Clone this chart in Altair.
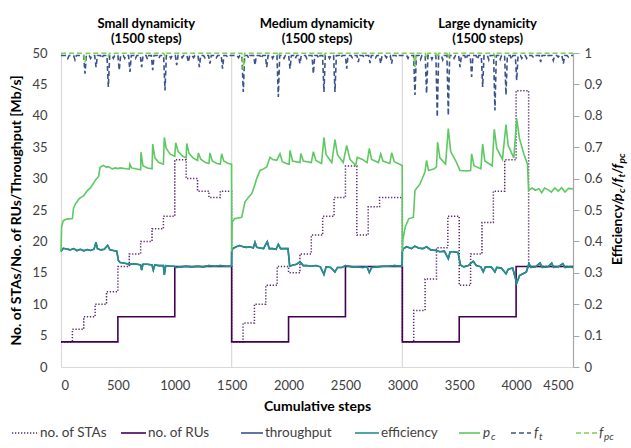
import altair as alt
import pandas as pd

# ---------------- data ----------------
x_ticks = [0, 500, 1000, 1500, 2000, 2500, 3000, 3500, 4000, 4500]
left_ticks = [0, 5, 10, 15, 20, 25, 30, 35, 40, 45, 50]
right_ticks = [0, 0.1, 0.2, 0.3, 0.4, 0.5, 0.6, 0.7, 0.8, 0.9, 1]
sep_steps = [1500, 3000]
panel_centers = [750, 2250, 3750]
panel_line1 = ["Small dynamicity", "Medium dynamicity", "Large dynamicity"]
panel_line2 = ["(1500 steps)", "(1500 steps)", "(1500 steps)"]

sta_step = [0, 100, 200, 300, 400, 500, 600, 700, 800, 900, 1000, 1100, 1200, 1300, 1400,
            1500, 1600, 1700, 1800, 1900, 2000, 2100, 2200, 2300, 2400, 2500, 2600, 2700, 2800,
            3000, 3100, 3200, 3300, 3400, 3500, 3600, 3700, 3800, 3900, 4000, 4110, 4500]
sta_val = [4, 6, 8, 10, 12, 16, 18, 20, 22, 24, 33, 30, 28, 27, 28,
           4, 7, 10, 13, 16, 15, 18, 21, 24, 27, 32, 21, 25.5, 27,
           4, 9, 14, 19, 24, 13, 18, 23, 28, 33, 44, 16, 16]

ru_step = [0, 500, 1000, 1500, 2000, 2500, 3000, 3500, 4000, 4500]
ru_val = [4, 8, 16, 4, 8, 16, 4, 8, 16, 16]

eff_step = [0, 20, 50, 80, 110, 140, 170, 200, 230, 260, 290, 308, 320, 350, 380, 410, 430, 460, 490,
            505, 520, 550, 580, 610, 640, 670, 700, 709, 720, 760, 800, 811, 825, 860, 900, 908, 920,
            960, 995, 1010, 1050, 1100, 1150, 1200, 1250, 1300, 1350, 1400, 1450, 1499,
            1500, 1510, 1540, 1570, 1600, 1630, 1660, 1690, 1705, 1720, 1750, 1780, 1813, 1830, 1860,
            1890, 1910, 1930, 1960, 1995, 2010, 2040, 2070, 2100, 2130, 2160, 2200, 2240, 2280, 2311,
            2330, 2370, 2408, 2430, 2470, 2500, 2530, 2560, 2600, 2650, 2690, 2710, 2730, 2780, 2830,
            2880, 2930, 2999,
            3000, 3010, 3040, 3080, 3110, 3140, 3180, 3213, 3250, 3300, 3330, 3370, 3404, 3420, 3450,
            3490, 3510, 3540, 3580, 3623, 3650, 3690, 3711, 3730, 3780, 3814, 3830, 3870, 3911, 3930,
            3970, 4005, 4030, 4060, 4090, 4113, 4130, 4170, 4210, 4230, 4280, 4313, 4330, 4370, 4410,
            4430, 4470, 4500]
eff_val = [0.368, 0.378, 0.376, 0.373, 0.377, 0.371, 0.375, 0.370, 0.374, 0.371, 0.375, 0.397, 0.377,
           0.373, 0.375, 0.387, 0.373, 0.371, 0.369,
           0.339, 0.333, 0.331, 0.329, 0.327, 0.329, 0.327, 0.325, 0.309, 0.327, 0.327, 0.325, 0.309,
           0.325, 0.323, 0.323, 0.293, 0.323, 0.321, 0.321, 0.317, 0.319, 0.321, 0.319, 0.321, 0.319,
           0.323, 0.321, 0.323, 0.321, 0.321,
           0.368, 0.377, 0.383, 0.387, 0.383, 0.381, 0.383, 0.379, 0.397, 0.381, 0.379, 0.377, 0.399,
           0.377, 0.377, 0.375, 0.391, 0.377, 0.377, 0.377, 0.321, 0.325, 0.327, 0.335, 0.323, 0.323,
           0.321, 0.323, 0.319, 0.295, 0.319, 0.317, 0.303, 0.317, 0.317, 0.323, 0.321, 0.319, 0.319,
           0.317, 0.319, 0.301, 0.317, 0.319, 0.321, 0.321, 0.323, 0.321,
           0.368, 0.377, 0.383, 0.377, 0.385, 0.379, 0.377, 0.383, 0.373, 0.371, 0.367, 0.369, 0.345,
           0.367, 0.367, 0.365, 0.325, 0.319, 0.323, 0.337, 0.323, 0.319, 0.303, 0.319, 0.319, 0.303,
           0.317, 0.315, 0.297, 0.311, 0.315, 0.267, 0.291, 0.297, 0.303, 0.329, 0.317, 0.319, 0.331,
           0.317, 0.319, 0.331, 0.317, 0.319, 0.329, 0.317, 0.319, 0.317]

thr_step = eff_step
thr_val = [18.4, 18.9, 18.8, 18.65, 18.85, 18.55, 18.75, 18.5, 18.7, 18.55, 18.75, 19.85, 18.85,
           18.65, 18.75, 19.35, 18.65, 18.55, 18.45,
           16.95, 16.65, 16.55, 16.45, 16.35, 16.45, 16.35, 16.25, 15.45, 16.35, 16.35, 16.25, 15.45,
           16.25, 16.15, 16.15, 14.65, 16.15, 16.05, 16.05, 15.85, 15.95, 16.05, 15.95, 16.05, 15.95,
           16.15, 16.05, 16.15, 16.05, 16.05,
           18.4, 18.85, 19.15, 19.35, 19.15, 19.05, 19.15, 18.95, 19.85, 19.05, 18.95, 18.85, 19.95,
           18.85, 18.85, 18.75, 19.55, 18.85, 18.85, 18.85, 16.05, 16.25, 16.35, 16.75, 16.15, 16.15,
           16.05, 16.15, 15.95, 14.75, 15.95, 15.85, 15.15, 15.85, 15.85, 16.15, 16.05, 15.95, 15.95,
           15.85, 15.95, 15.05, 15.85, 15.95, 16.05, 16.05, 16.15, 16.05,
           18.4, 18.85, 19.15, 18.85, 19.25, 18.95, 18.85, 19.15, 18.65, 18.55, 18.35, 18.45, 17.25,
           18.35, 18.35, 18.25, 16.25, 15.95, 16.15, 16.85, 16.15, 15.95, 15.15, 15.95, 15.95, 15.15,
           15.85, 15.75, 14.85, 15.55, 15.75, 13.35, 14.55, 14.85, 15.15, 16.45, 15.85, 15.95, 16.55,
           15.85, 15.95, 16.55, 15.85, 15.95, 16.45, 15.85, 15.95, 15.85]

pc_step = [0, 5, 20, 50, 100, 110, 130, 160, 200, 230, 260, 290, 308, 330, 343, 372, 400, 416, 450,
           480, 500, 520, 600, 606, 620, 700, 703, 720, 760, 800, 806, 825, 860, 900, 908, 925, 960,
           1000, 1008, 1030, 1070, 1100, 1105, 1125, 1160, 1200, 1207, 1230, 1270, 1300, 1309, 1330,
           1370, 1400, 1412, 1430, 1470, 1499,
           1500, 1505, 1525, 1588, 1617, 1650, 1676, 1700, 1720, 1749, 1780, 1808, 1837, 1860, 1896,
           1925, 1945, 1980, 2005, 2013, 2035, 2100, 2108, 2130, 2200, 2218, 2240, 2290, 2311, 2330,
           2380, 2408, 2430, 2480, 2511, 2540, 2590, 2604, 2650, 2690, 2710, 2730, 2790, 2810, 2830,
           2890, 2906, 2930, 2999,
           3000, 3005, 3025, 3056, 3097, 3111, 3155, 3199, 3213, 3230, 3280, 3300, 3310, 3330, 3380,
           3404, 3425, 3470, 3507, 3560, 3600, 3609, 3630, 3690, 3706, 3725, 3790, 3808, 3830, 3880,
           3911, 3930, 3980, 4005, 4030, 4070, 4100, 4110, 4140, 4170, 4200, 4225, 4250, 4280, 4310,
           4340, 4370, 4400, 4430, 4460, 4500]
pc_val = [0.368, 0.445, 0.466, 0.471, 0.473, 0.506, 0.521, 0.536, 0.546, 0.561, 0.571, 0.588, 0.598,
          0.606, 0.636, 0.642, 0.636, 0.638, 0.631, 0.634, 0.632, 0.634, 0.630, 0.646, 0.634, 0.628,
          0.684, 0.641, 0.634, 0.631, 0.710, 0.666, 0.651, 0.646, 0.731, 0.696, 0.678, 0.671, 0.714,
          0.686, 0.671, 0.666, 0.712, 0.681, 0.666, 0.658, 0.681, 0.661, 0.651, 0.648, 0.682, 0.656,
          0.648, 0.646, 0.679, 0.656, 0.648, 0.646,
          0.368, 0.462, 0.472, 0.477, 0.526, 0.541, 0.552, 0.576, 0.600, 0.626, 0.631, 0.637, 0.668,
          0.661, 0.658, 0.679, 0.654, 0.648, 0.646, 0.690, 0.656, 0.651, 0.680, 0.656, 0.651, 0.686,
          0.658, 0.648, 0.731, 0.676, 0.651, 0.724, 0.676, 0.651, 0.706, 0.661, 0.642, 0.668, 0.661,
          0.651, 0.696, 0.661, 0.651, 0.679, 0.656, 0.648, 0.682, 0.654, 0.642,
          0.368, 0.405, 0.445, 0.472, 0.477, 0.562, 0.583, 0.621, 0.658, 0.626, 0.631, 0.637, 0.716,
          0.666, 0.646, 0.759, 0.686, 0.656, 0.626, 0.624, 0.626, 0.679, 0.641, 0.631, 0.710, 0.656,
          0.641, 0.757, 0.696, 0.661, 0.772, 0.706, 0.666, 0.791, 0.727, 0.676, 0.646, 0.562, 0.570,
          0.563, 0.568, 0.555, 0.570, 0.565, 0.557, 0.570, 0.560, 0.571, 0.557, 0.569, 0.567]

ft_base = 0.992
ft_dip_step = [60, 123, 211, 260, 308, 360, 416, 460, 512, 560, 606, 655, 709, 760, 806, 860, 914, 965,
               1017, 1065, 1119, 1165, 1216, 1265, 1309, 1365, 1420, 1465,
               1560, 1602, 1650, 1705, 1760, 1808, 1860, 1910, 1960, 2013, 2060, 2100, 2160, 2218, 2265,
               2311, 2360, 2408, 2460, 2511, 2560, 2613, 2665, 2716, 2765, 2810, 2860, 2906, 2955,
               3050, 3111, 3160, 3213, 3260, 3307, 3355, 3404, 3455, 3507, 3560, 3609, 3660, 3706, 3760,
               3814, 3860, 3911, 3960, 4005, 4050, 4093, 4150, 4216, 4270, 4327, 4370, 4415, 4460]
ft_dip_val = [0.983, 0.978, 0.934, 0.983, 0.955, 0.983, 0.892, 0.983, 0.945, 0.983, 0.940, 0.983, 0.955,
              0.980, 0.945, 0.983, 0.881, 0.983, 0.961, 0.985, 0.971, 0.985, 0.955, 0.985, 0.966, 0.985,
              0.950, 0.987,
              0.985, 0.876, 0.983, 0.961, 0.983, 0.955, 0.983, 0.860, 0.983, 0.950, 0.983, 0.966, 0.983,
              0.934, 0.983, 0.876, 0.983, 0.876, 0.985, 0.950, 0.985, 0.971, 0.985, 0.968, 0.985, 0.966,
              0.985, 0.966, 0.987,
              0.983, 0.866, 0.980, 0.871, 0.980, 0.796, 0.978, 0.801, 0.983, 0.955, 0.980, 0.924, 0.980,
              0.892, 0.978, 0.817, 0.980, 0.866, 0.980, 0.913, 0.983, 0.983, 0.987, 0.971, 0.987, 0.976,
              0.987, 0.966, 0.987]

fpc_base = 0.999
fpc_dip_step = [211, 416, 914, 1602, 1910, 2311, 3111, 3213, 3307, 3404, 3814]
fpc_dip_val = [0.970, 0.990, 0.990, 0.948, 0.990, 0.990, 0.955, 0.985, 0.985, 0.985, 0.988]

# ---------------- helpers ----------------
FONT = "Lato"
W, H = 512, 314
DIP_HALF = 12


def dip_table(steps, vals, base):
    rows = [{"step": 0, "v": base}]
    for s, v in zip(steps, vals):
        rows += [{"step": s - DIP_HALF, "v": base}, {"step": s, "v": v}, {"step": s + DIP_HALF, "v": base}]
    rows.append({"step": 4500, "v": base})
    return pd.DataFrame(rows)


X = alt.X("step:Q", scale=alt.Scale(domain=[0, 4500], nice=False, zero=False),
          axis=alt.Axis(values=x_ticks, format="d", title="Cumulative steps", ticks=False, grid=False,
                        labelPadding=12, titlePadding=7, domainColor="#d9d9d9", domainWidth=1.2,
                        labelFontSize=13, titleFontSize=14, titleFontWeight="bold",
                        labelColor="#404040", titleColor="#000000", labelFont=FONT, titleFont=FONT))

YL = alt.Y("v:Q", scale=alt.Scale(domain=[0, 50], nice=False),
           axis=alt.Axis(values=left_ticks, format="d",
                         title="No. of STAs/No. of RUs/Throughput [Mb/s]",
                         ticks=False, grid=False, labelPadding=14, titlePadding=8,
                         domainColor="#d9d9d9", domainWidth=1.2, labelFontSize=13, titleFontSize=14,
                         titleFontWeight="bold", labelColor="#404040", titleColor="#000000",
                         labelFont=FONT, titleFont=FONT))

YR = alt.Y("v:Q", scale=alt.Scale(domain=[0, 1], nice=False),
           axis=alt.Axis(values=right_ticks, orient="right", format="~g", title=None,
                         ticks=True, tickSize=6, tickColor="#a6a6a6", grid=False, labelPadding=5,
                         domainColor="#a6a6a6", domainWidth=1.2, labelFontSize=13,
                         labelColor="#404040", labelFont=FONT))


def line(df, y, color, dash=None, interp="linear", width=1.6):
    kw = dict(color=color, strokeWidth=width, interpolate=interp)
    if dash:
        kw["strokeDash"] = dash
    return alt.Chart(df).mark_line(**kw).encode(x=X, y=y)


def txt(s, x, y, size=13, weight="normal", style="normal", angle=0, align="left",
        baseline="middle", color="#000000"):
    kw = dict(text=s, fontSize=size, fontWeight=weight, fontStyle=style, align=align,
              baseline=baseline, font=FONT, color=color)
    if angle:
        kw["angle"] = angle
    return alt.Chart(alt.Data(values=[{}])).mark_text(**kw).encode(x=alt.value(x), y=alt.value(y))


def sym(x0, x1, y, color, dash=None, width=1.6):
    kw = dict(color=color, strokeWidth=width)
    if dash:
        kw["strokeDash"] = dash
    return alt.Chart(alt.Data(values=[{}])).mark_rule(**kw).encode(
        x=alt.value(x0), x2=alt.value(x1), y=alt.value(y))


C_STA = "#5c2a6e"
C_RU = "#440154"
C_THR = "#3b528b"
C_EFF = "#21918c"
C_PC = "#5ec962"
C_FT = "#3b528b"
C_FPC = "#7ad151"
D_STA = [1.3, 1.7]
D_DASH = [5, 3]

# ---------------- layers ----------------
sep = alt.Chart(pd.DataFrame({"step": sep_steps})).mark_rule(color="#d9d9d9", strokeWidth=1.2).encode(
    x=X, y=alt.value(0), y2=alt.value(H))

titles_df = pd.DataFrame({"step": panel_centers, "l1": panel_line1, "l2": panel_line2})
t1 = alt.Chart(titles_df).mark_text(font=FONT, fontSize=13, fontWeight="bold", color="#000000").encode(
    x=X, y=alt.value(-29), text="l1:N")
t2 = alt.Chart(titles_df).mark_text(font=FONT, fontSize=13, fontWeight="bold", color="#000000").encode(
    x=X, y=alt.value(-14), text="l2:N")

sta = line(pd.DataFrame({"step": sta_step, "v": sta_val}), YL, C_STA, D_STA, "step-after", 1.5)
ru = line(pd.DataFrame({"step": ru_step, "v": ru_val}), YL, C_RU, None, "step-after", 1.6)
thr = line(pd.DataFrame({"step": thr_step, "v": thr_val}), YL, C_THR)

left = alt.layer(sep, t1, t2, sta, ru, thr)

eff = line(pd.DataFrame({"step": eff_step, "v": eff_val}), YR, C_EFF)
pc = line(pd.DataFrame({"step": pc_step, "v": pc_val}), YR, C_PC)
ft = line(dip_table(ft_dip_step, ft_dip_val, ft_base), YR, C_FT, D_DASH)
fpc = line(dip_table(fpc_dip_step, fpc_dip_val, fpc_base), YR, C_FPC, D_DASH)

right = alt.layer(eff, pc, ft, fpc)

# right-axis title with subscripts (rotated pieces, reading upward)
RX = 557
rt = [
    txt("Efficiency/", RX, 212, 14, "bold", angle=270),
    txt("p", RX, 148, 14, "bold", "italic", angle=270),
    txt("c", RX + 4, 140, 10, "bold", "italic", angle=270),
    txt("/", RX, 135, 14, "bold", angle=270),
    txt("f", RX, 129.5, 14, "bold", "italic", angle=270),
    txt("t", RX + 4, 124.5, 10, "bold", "italic", angle=270),
    txt("/", RX, 121, 14, "bold", angle=270),
    txt("f", RX, 115.5, 14, "bold", "italic", angle=270),
    txt("pc", RX + 4, 110.5, 10, "bold", "italic", angle=270),
]

# legend
LY = 380
LC = "#404040"
leg = [
    sym(-49, -24, LY, C_STA, D_STA, 1.5), txt("no. of STAs", -21, LY, 13.5, color=LC),
    sym(60, 85, LY, C_RU), txt("no. of RUs", 87, LY, 13.5, color=LC),
    sym(180, 202, LY, C_THR), txt("throughput", 204, LY, 13.5, color=LC),
    sym(294, 318, LY, C_EFF), txt("efficiency", 320, LY, 13.5, color=LC),
    sym(398, 419, LY, C_PC), txt("p", 422, LY, 13.5, style="italic", color=LC),
    txt("c", 430, LY + 4, 10, style="italic", color=LC),
    sym(450, 470, LY, C_FT, D_DASH), txt("f", 473, LY, 13.5, style="italic", color=LC),
    txt("t", 478, LY + 4, 10, style="italic", color=LC),
    sym(515, 536, LY, C_FPC, D_DASH), txt("f", 538, LY, 13.5, style="italic", color=LC),
    txt("pc", 543, LY + 4, 10, style="italic", color=LC),
]

deco = alt.layer(*rt, *leg)

chart = alt.layer(left, right, deco).resolve_scale(y="independent").properties(
    width=W, height=H,
    autosize=alt.AutoSizeParams(type="none"),
    padding={"left": 61, "top": 53, "right": 58, "bottom": 81},
).configure_view(stroke=None)

chart.save("out.html", embed_options={"renderer": "svg", "actions": False})
